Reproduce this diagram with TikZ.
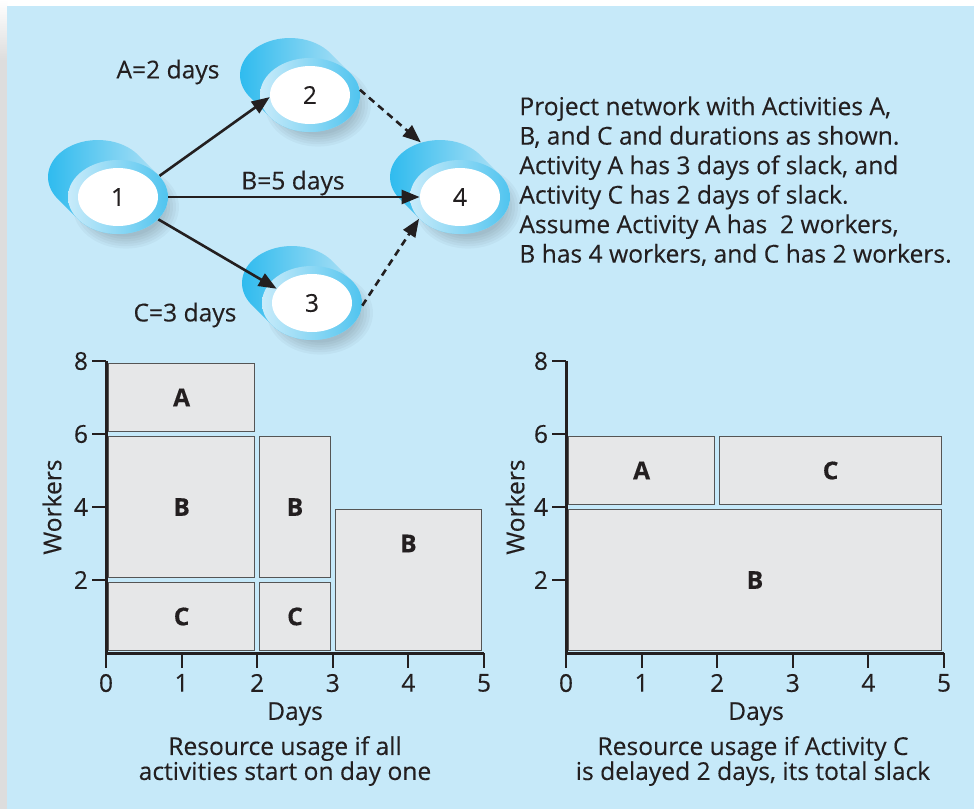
\documentclass[tikz,border=0pt]{standalone}
\usepackage{fontspec}
\setmainfont{Open Sans}[FakeBold=0.25]
\usepackage{tikz}
\usetikzlibrary{shapes,arrows.meta,positioning,calc}
\definecolor{panelblue}{RGB}{198,233,249}
\definecolor{stripgray}{RGB}{221,221,221}
\definecolor{tubedeep}{RGB}{40,185,238}
\definecolor{tubepale}{RGB}{190,229,246}
\definecolor{ringpale}{RGB}{200,235,250}
\definecolor{ringdeep}{RGB}{80,196,239}
\definecolor{inkdark}{RGB}{35,31,32}
\definecolor{barfill}{RGB}{230,231,232}
\definecolor{baredge}{RGB}{85,85,85}

\begin{document}
\begin{tikzpicture}[x=0.5pt, y=0.5pt,
    every node/.style={font=\fontsize{12.3}{14.75}\selectfont, text=inkdark},
    ring/.style={ellipse, minimum width=50pt, minimum height=37pt, inner sep=0pt},
    event/.style={ellipse, fill=white, minimum width=40pt, minimum height=29pt, inner sep=0pt},
    act/.style={-{Triangle[length=9pt,width=7pt]}, line width=1.3pt, draw=inkdark},
    slack/.style={act, dash pattern=on 3.5pt off 2.5pt},
    axis/.style={line width=1.5pt, draw=inkdark},
    tick/.style={line width=1pt, draw=inkdark},
    bar/.style={fill=barfill, draw=baredge, line width=0.6pt},
    barlabel/.style={font=\fontsize{12.3}{14}\selectfont\bfseries},
]
    % Panel
    \useasboundingbox (0,0) rectangle (974,-809);
    \fill[white] (0,0) rectangle (974,-809);
    \shade[top color=white, bottom color=stripgray] (0,0) rectangle (7,-60);
    \fill[stripgray] (0,-60) rectangle (7,-809);
    \fill[panelblue] (7,-6) rectangle (974,-809);

    % Events as tubes
    \foreach \n/\x/\y in {1/118/197, 2/310/95, 3/312/303, 4/460/197} {
        \foreach \k in {1,...,6}
            \fill[black, opacity=0.03] (\x+8,-\y-10) ellipse[x radius={28pt-\k*1.5pt}, y radius={22pt-\k*1.2pt}];
        \shade[left color=tubedeep, right color=tubepale]
            ($(\x,-\y)+(216.5:25pt and 18.5pt)$) arc[start angle=216.5, end angle=396.5, x radius=25pt, y radius=18.5pt]
            -- ++(-20,20) arc[start angle=36.5, end angle=216.5, x radius=25pt, y radius=18.5pt] -- cycle;
        \node[ring] (b\n) at (\x-20,-\y+20) {};
        \node[ring, left color=ringpale, right color=ringdeep] (r\n) at (\x,-\y) {};
        \node[event] (e\n) at (\x,-\y) {\n};
    }

    % Activities
    \draw[act] (r1.27) -- (e2.183);
    \draw[act] (r1.east) -- (e4.west);
    \draw[act] (r1.-29) -- (e3.158);
    \draw[slack] (r2.6) -- (b4.119);
    \draw[slack] (r3.-3) -- (r4.208);
    \node (durA) at (168,-72) {A=2 days};
    \node (durB) at (293,-183) {B=5 days};
    \node (durC) at (185,-315) {C=3 days};

    \node[anchor=north west, align=left, inner sep=0pt] (note) at (519,-96)
        {Project network with Activities A,\\
         B, and C and durations as shown.\\
         Activity A has 3 days of slack, and\\
         Activity C has 2 days of slack.\\
         Assume Activity A has~~2 workers,\\
         B has 4 workers, and C has 2 workers.};

    % Left chart
    \begin{scope}[shift={(106,-653)}, x=37.8pt, y=18.25pt]
    \foreach \xa/\ya/\xb/\yb/\lx/\ly/\lab in {0/6/2/8/1/7/A, 0/2/2/6/1/4/B, 0/0/2/2/1/1/C,
                                             2/2/3/6/2.5/4/B, 2/0/3/2/2.5/1/C, 3/0/5/4/4/3/B} {
        \draw[bar] ($(\xa,\ya)+(1.2pt,1.2pt)$) rectangle ($(\xb,\yb)-(1.2pt,1.2pt)$);
        \node[barlabel] (la\xa\ya) at (\lx,\ly) {\lab};
    }
    \draw[axis] (0,8) -- (0,0) -- (5,0);
    \foreach \w in {2,4,6,8}
        \draw[tick] (0,\w) -- ++(-7pt,0) node[left, inner sep=1.5pt] (lw\w) {\w};
    \foreach \d in {0,...,5}
        \draw[tick] (\d,0) -- ++(0,-7.5pt) node[below, inner sep=2.5pt] (ld\d) {\d};
    \end{scope}
    \node (daysL) at (295,-714) {Days};
    \node[rotate=90] (workL) at (52,-507) {Workers};
    \node[align=center, font=\fontsize{12.3}{12.5}\selectfont] (capL) at (285,-761)
        {Resource usage if all\\activities start on day one};

    % Right chart
    \begin{scope}[shift={(566,-653)}, x=37.8pt, y=18.25pt]
    \foreach \xa/\ya/\xb/\yb/\lx/\ly/\lab in {0/4/2/6/1/5/A, 2/4/5/6/3.5/5/C, 0/0/5/4/2.5/2/B} {
        \draw[bar] ($(\xa,\ya)+(1.2pt,1.2pt)$) rectangle ($(\xb,\yb)-(1.2pt,1.2pt)$);
        \node[barlabel] (ra\xa\ya) at (\lx,\ly) {\lab};
    }
    \draw[axis] (0,8) -- (0,0) -- (5,0);
    \foreach \w in {2,4,6,8}
        \draw[tick] (0,\w) -- ++(-7pt,0) node[left, inner sep=1.5pt] (rw\w) {\w};
    \foreach \d in {0,...,5}
        \draw[tick] (\d,0) -- ++(0,-7.5pt) node[below, inner sep=2.5pt] (rd\d) {\d};
    \end{scope}
    \node (daysR) at (756,-714) {Days};
    \node[rotate=90] (workR) at (515,-507) {Workers};
    \node[align=center, font=\fontsize{12.3}{12.5}\selectfont] (capR) at (753,-761)
        {Resource usage if Activity C\\is delayed 2 days, its total slack};
\end{tikzpicture}
\end{document}
